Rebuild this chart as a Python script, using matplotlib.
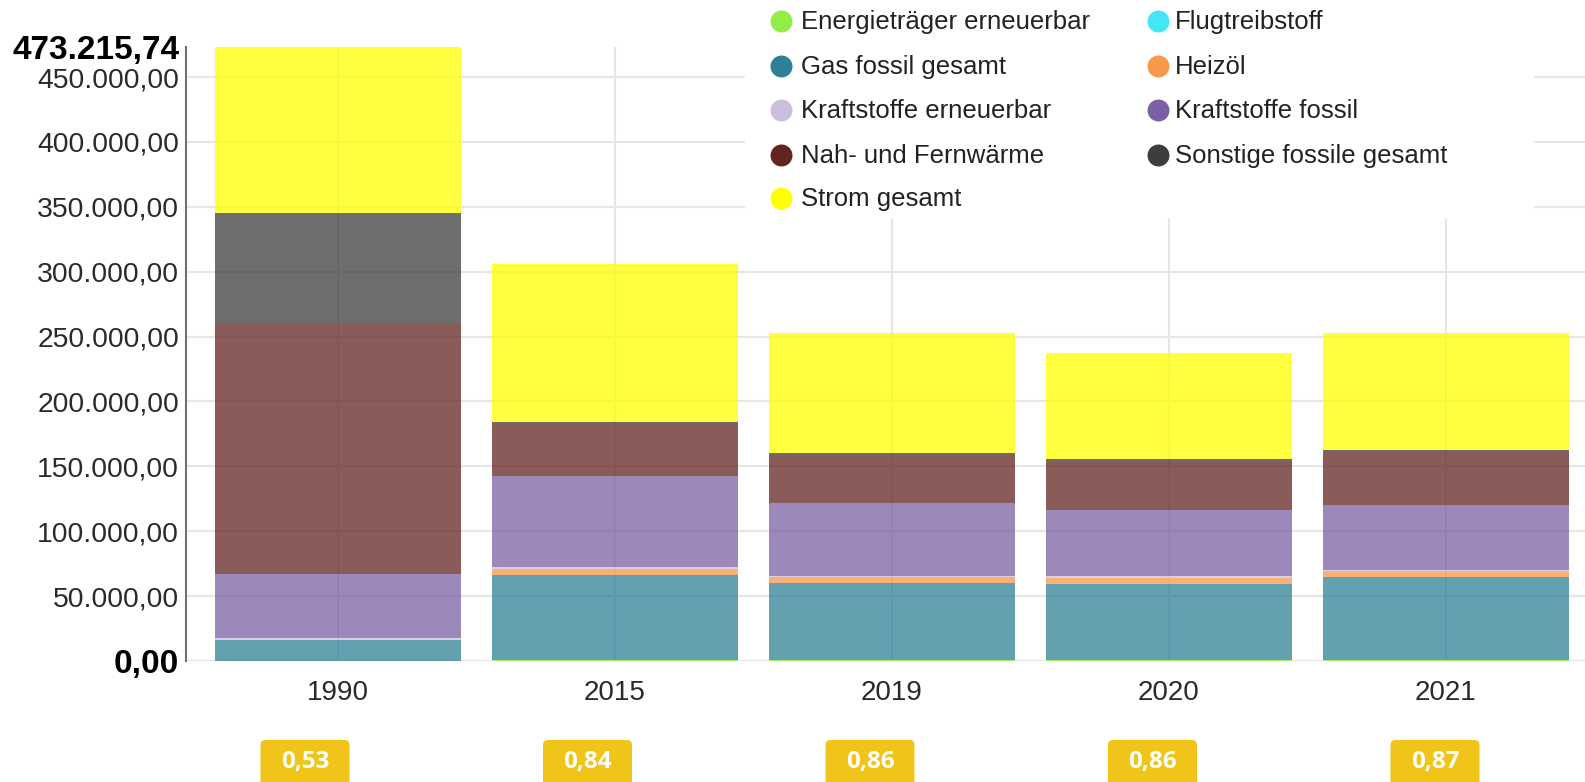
import matplotlib
matplotlib.use("Agg")
import matplotlib.pyplot as plt
from matplotlib.patches import Rectangle, FancyBboxPatch

# data
years = ["1990", "2015", "2019", "2020", "2021"]
names = ["Energieträger erneuerbar", "Flugtreibstoff", "Gas fossil gesamt", "Heizöl",
         "Kraftstoffe erneuerbar", "Kraftstoffe fossil", "Nah- und Fernwärme",
         "Sonstige fossile gesamt", "Strom gesamt"]
colors = ["#92EE44", "#44E6F6", "#2F8096", "#F89848", "#CBBEDD", "#7D60A4",
          "#632420", "#3D3D3D", "#FFFF00"]

energie_ern = [0, 500, 500, 500, 500]
flugtreib = [0, 300, 300, 300, 300]
gas_fossil = [16400, 65500, 59300, 58500, 64000]
heizoel = [0, 4500, 4300, 5000, 4500]
kraft_ern = [1500, 1500, 1200, 1200, 1000]
kraft_fossil = [49000, 70400, 56100, 50700, 49800]
fernwaerme = [193500, 40600, 37400, 38200, 41400]
sonstige = [85000, 1000, 900, 900, 900]
strom = [127815.74, 121500, 92700, 81800, 90300]
series = [energie_ern, flugtreib, gas_fossil, heizoel, kraft_ern, kraft_fossil,
          fernwaerme, sonstige, strom]

y_max = 473215.74
grid_vals = list(range(0, 450001, 50000))
badges = ["0,53", "0,84", "0,86", "0,86", "0,87"]


def de_fmt(v):
    s = f"{v:,.2f}"
    return s.replace(",", "X").replace(".", ",").replace("X", ".")


plt.rcParams["font.family"] = ["Liberation Sans", "DejaVu Sans"]

W, H = 1585, 782
fig = plt.figure(figsize=(W / 100, H / 100), dpi=100)
ax = fig.add_axes([186 / W, 1 - 661 / H, 1 - 186 / W, (661 - 47) / H])

x0, x1 = -0.549, 4.502
ax.set_xlim(x0, x1)
ax.set_ylim(0, y_max)

# grid
ax.hlines(grid_vals, x0, x1, color="#e6e6e6", lw=1.5, zorder=0)
ax.vlines(range(len(years)), 0, y_max, color="#e6e6e6", lw=1.5, zorder=0)

bottom = [0] * len(years)
for vals, c in zip(series, colors):
    ax.bar(range(len(years)), vals, width=0.89, bottom=bottom, color=c,
           alpha=0.75, linewidth=0, zorder=2)
    bottom = [b + v for b, v in zip(bottom, vals)]

for s in ["top", "right", "bottom"]:
    ax.spines[s].set_visible(False)
ax.spines["left"].set_color("#707070")
ax.spines["left"].set_linewidth(1.5)

ticks = grid_vals + [y_max]
ax.set_yticks(ticks)
ax.set_yticklabels([de_fmt(v) for v in ticks])
ax.tick_params(axis="y", length=0, pad=5, labelsize=20.4, labelcolor="#2a2a2a")
for lbl in [ax.get_yticklabels()[0], ax.get_yticklabels()[-1]]:
    lbl.set_fontweight("bold")
    lbl.set_color("black")
    lbl.set_fontsize(24)

ax.set_xticks(range(len(years)))
ax.set_xticklabels(years)
ax.tick_params(axis="x", length=0, pad=13.5, labelsize=20, labelcolor="#2a2a2a")

# overlay for legend and badges, in pixel coords
ov = fig.add_axes([0, 0, 1, 1], zorder=5)
ov.set_xlim(0, W)
ov.set_ylim(H, 0)
ov.axis("off")
ov.patch.set_alpha(0)

ov.add_patch(Rectangle((745, 0), 788, 217, color="white", zorder=1))
rows = [21, 66, 110, 155, 198]
for i, (n, c) in enumerate(zip(names, colors)):
    r, col = divmod(i, 2)
    mx = 781 if col == 0 else 1158
    tx = 801 if col == 0 else 1175
    ov.scatter([mx], [rows[r]], s=250, color=c, zorder=2, linewidths=0)
    ov.text(tx, rows[r] + 1, n, fontsize=18.5, va="center", ha="left", color="#222222", zorder=3)

for i, b in enumerate(badges):
    cx = 305 + i * 282.5
    ov.add_patch(FancyBboxPatch((cx - 44.5, 740), 89, 48,
                                boxstyle="round,pad=0,rounding_size=5",
                                color="#F0C419", linewidth=0, zorder=2))
    ov.text(cx, 762, b, fontsize=17.5, fontweight="bold", color="white",
            ha="center", va="center", family=["Open Sans", "DejaVu Sans"], zorder=3)

fig.savefig("out.png", dpi=100)
